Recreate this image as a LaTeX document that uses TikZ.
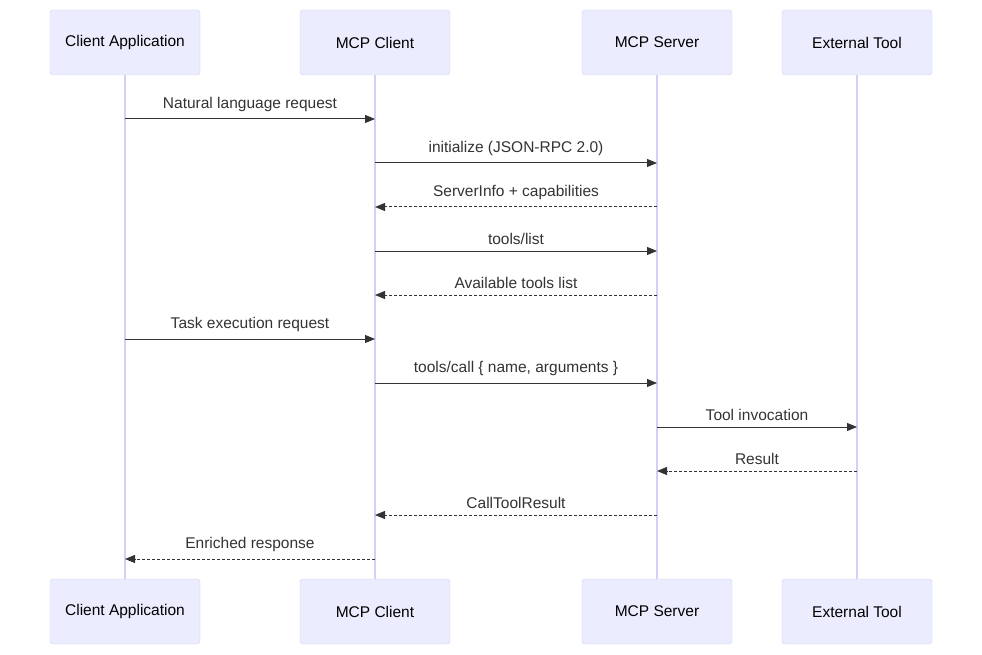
\documentclass[tikz,border=0pt]{standalone}
\usepackage{fontspec}
\setmainfont{Liberation Sans}
\usetikzlibrary{arrows.meta}
\definecolor{actfill}{HTML}{ECECFF}
\definecolor{actline}{HTML}{D4CFF5}
\definecolor{msgcol}{HTML}{333333}
\tikzset{
  actor/.style={draw=actline, fill=actfill, rounded corners=3pt, minimum width=150pt, minimum height=65pt, font=\fontsize{15.5}{18}\selectfont},
  life/.style={draw=actline, line width=1.2pt},
  msg/.style={draw=msgcol, line width=1pt, -{Triangle[length=10pt,width=8pt]}},
  reply/.style={msg, dash pattern=on 3pt off 2pt},
  lbl/.style={font=\fontsize{15.5}{18}\selectfont, text=msgcol, above=3pt}
}
\begin{document}
\begin{tikzpicture}[x=1pt, y=-1pt]
\useasboundingbox (0,0) rectangle (982,655);

\foreach \n/\x/\t in {ca/125/Client Application, mc/375/MCP Client, ms/657/MCP Server, et/857/External Tool}{
  \draw[life] (\x,75) -- (\x,579);
  \node[actor] (\n top) at (\x,42.5) {\t};
  \node[actor] (\n bot) at (\x,611.5) {\t};
}

\foreach \i/\y/\a/\b in {1/119/ca/mc, 2/163/mc/ms, 3/207/ms/mc, 4/251/mc/ms, 5/295/ms/mc, 6/339/ca/mc, 7/383/mc/ms, 8/427/ms/et, 9/471/et/ms, 10/515/ms/mc, 11/559/mc/ca}{
  \coordinate (s\i) at (\a top |- 0,\y);
  \coordinate (e\i) at (\b top |- 0,\y);
}

\draw[msg] (s1) -- node[lbl] {Natural language request} (e1);
\draw[msg] (s2) -- node[lbl] {initialize (JSON-RPC 2.0)} (e2);
\draw[reply] (s3) -- node[lbl] {ServerInfo + capabilities} (e3);
\draw[msg] (s4) -- node[lbl] {tools/list} (e4);
\draw[reply] (s5) -- node[lbl] {Available tools list} (e5);
\draw[msg] (s6) -- node[lbl] {Task execution request} (e6);
\draw[msg] (s7) -- node[lbl] {tools/call \{ name, arguments \}} (e7);
\draw[msg] (s8) -- node[lbl] {Tool invocation} (e8);
\draw[reply] (s9) -- node[lbl] {Result} (e9);
\draw[reply] (s10) -- node[lbl] {CallToolResult} (e10);
\draw[reply] (s11) -- node[lbl] {Enriched response} (e11);
\end{tikzpicture}
\end{document}
